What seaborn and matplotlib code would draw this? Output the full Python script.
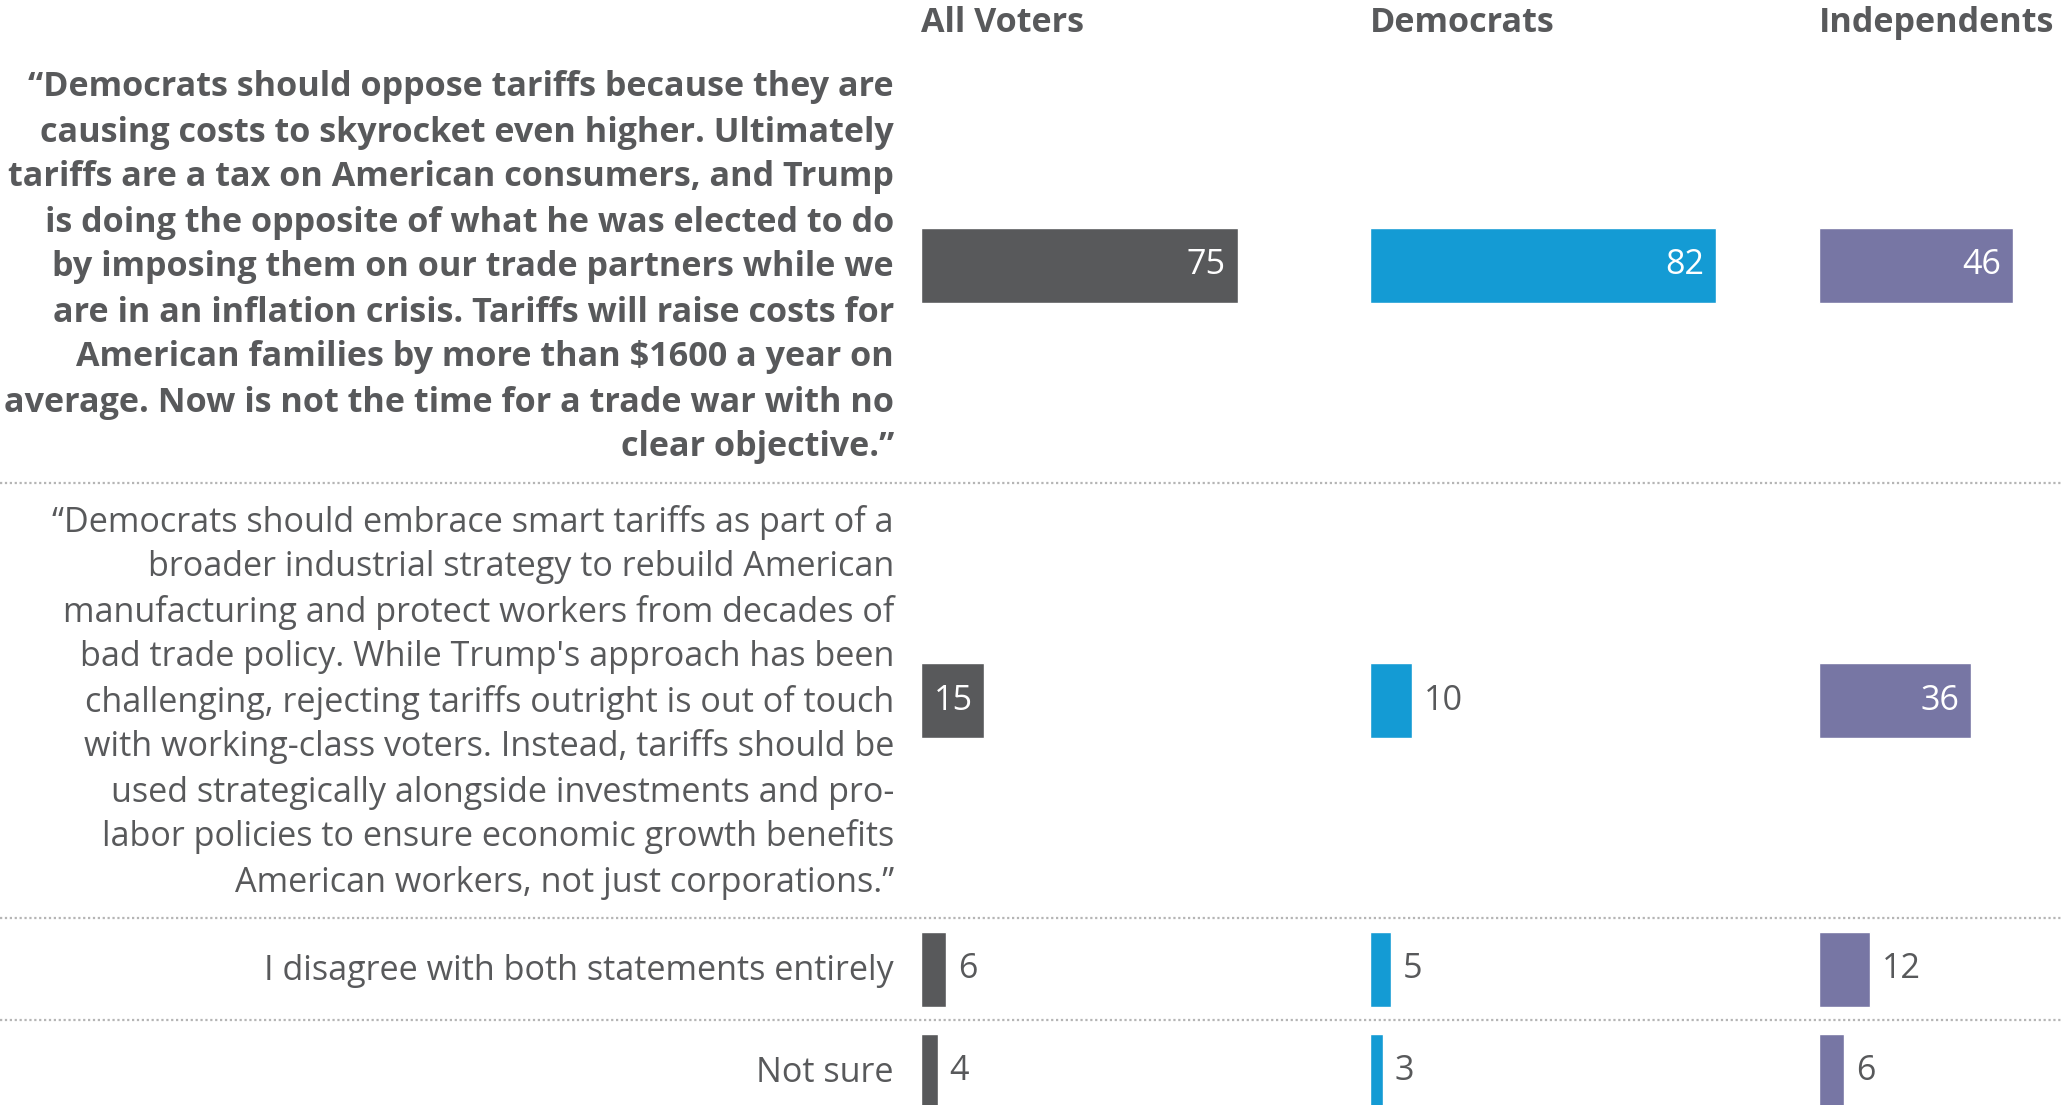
import numpy as np
import pandas as pd
import matplotlib
matplotlib.use("Agg")
import matplotlib.pyplot as plt
import seaborn as sns

# === Data ===
statements = [
    "“Democrats should oppose tariffs because they are\n"
    "causing costs to skyrocket even higher. Ultimately\n"
    "tariffs are a tax on American consumers, and Trump\n"
    "is doing the opposite of what he was elected to do\n"
    "by imposing them on our trade partners while we\n"
    "are in an inflation crisis. Tariffs will raise costs for\n"
    "American families by more than $1600 a year on\n"
    "average. Now is not the time for a trade war with no\n"
    "clear objective.”",
    "“Democrats should embrace smart tariffs as part of a\n"
    "broader industrial strategy to rebuild American\n"
    "manufacturing and protect workers from decades of\n"
    "bad trade policy. While Trump's approach has been\n"
    "challenging, rejecting tariffs outright is out of touch\n"
    "with working-class voters. Instead, tariffs should be\n"
    "used strategically alongside investments and pro-\n"
    "labor policies to ensure economic growth benefits\n"
    "American workers, not just corporations.”",
    "I disagree with both statements entirely",
    "Not sure",
]
bold_rows = [True, False, False, False]

groups = ["All Voters", "Democrats", "Independents"]
all_voters = [75, 15, 6, 4]
democrats = [82, 10, 5, 3]
independents = [46, 36, 12, 6]
colors = ["#58595b", "#149bd4", "#7776a4"]

# === Setup ===
sns.set_theme(style="white")
plt.rcParams["font.family"] = ["Open Sans", "DejaVu Sans"]
TEXT = "#58595b"

W, H = 2062, 1105
fig = plt.figure(figsize=(W / 100, H / 100), dpi=100)

# background axes in pixel units for labels and separators
bg = fig.add_axes([0, 0, 1, 1])
bg.set_xlim(0, W)
bg.set_ylim(H, 0)
bg.axis("off")

LINE_H = 45
BAR_H = 75
FS = 24.6

# row layout from number of text lines
tops, centers = [], []
y = 48
for s in statements:
    n = s.count("\n") + 1
    block = max(n * LINE_H + 30, BAR_H + 27)
    tops.append(y)
    centers.append(y + block / 2)
    y += block

for i, s in enumerate(statements):
    lines = s.split("\n")
    n = len(lines)
    for j, line in enumerate(lines):
        ly = centers[i] + (j - (n - 1) / 2) * LINE_H
        bg.text(894, ly + 11, line, ha="right", va="baseline", fontsize=FS,
                color=TEXT, fontweight="bold" if bold_rows[i] else "normal")
    if i > 0:
        bg.plot([0, W], [tops[i], tops[i]], color="#b5b5b5", lw=1.6,
                linestyle=(0, (1, 1.2)))

# === Bars ===
panel_x = [921, 1370, 1819]
panel_w = 449
UNITS = 106.3
df = pd.DataFrame({"ypos": centers, "All Voters": all_voters,
                   "Democrats": democrats, "Independents": independents})
min_gap = np.diff(sorted(centers)).min()

for k, g in enumerate(groups):
    ax = fig.add_axes([panel_x[k] / W, 0, panel_w / W, 1])
    sns.barplot(data=df, x=g, y="ypos", orient="h", native_scale=True,
                width=BAR_H / min_gap, color=colors[k], saturation=1,
                ax=ax)
    ax.set_xlim(0, UNITS)
    ax.set_ylim(H, 0)
    ax.axis("off")
    ax.text(0, 23, g, ha="left", va="center", fontsize=FS,
            fontweight="bold", color=TEXT)
    for v, yc in zip(df[g], df["ypos"]):
        if v > 12:
            ax.annotate(str(v), (v, yc), xytext=(-8.5, 0),
                        textcoords="offset points", ha="right", va="center",
                        fontsize=FS, color="white")
        else:
            ax.annotate(str(v), (v, yc), xytext=(8.5, 0),
                        textcoords="offset points", ha="left", va="center",
                        fontsize=FS, color=TEXT)

fig.savefig("out.png", dpi=100)
